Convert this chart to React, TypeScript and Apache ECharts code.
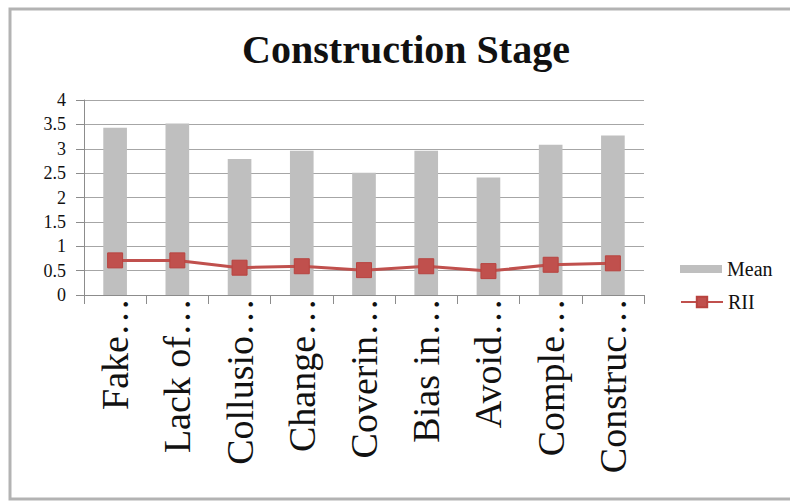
import React, { useEffect, useRef } from "react";
import * as echarts from "echarts";

// Construction-stage factors (labels are truncated as shown on the axis)
const categories = [
  "Fake…",
  "Lack of…",
  "Collusio…",
  "Change…",
  "Coverin…",
  "Bias in…",
  "Avoid…",
  "Comple…",
  "Construc…",
];

const meanValues = [3.43, 3.52, 2.79, 2.96, 2.51, 2.96, 2.41, 3.08, 3.27];
const riiValues = [0.71, 0.71, 0.56, 0.59, 0.51, 0.59, 0.49, 0.62, 0.65];

const yTicks = { min: 0, max: 4, interval: 0.5 };

const SERIF = "Liberation Serif";

export default function App() {
  const ref = useRef<HTMLDivElement>(null);

  useEffect(() => {
    if (!ref.current) return;
    const chart = echarts.init(ref.current, undefined, { renderer: "svg" });
    chart.setOption({
      animation: false,
      backgroundColor: "#ffffff",
      textStyle: { fontFamily: SERIF },
      title: {
        text: "Construction Stage",
        left: 406,
        top: 29,
        textAlign: "center",
        padding: 0,
        textStyle: {
          fontFamily: SERIF,
          fontSize: 40,
          fontWeight: "bold",
          color: "#111111",
        },
      },
      graphic: [
        {
          type: "rect",
          shape: { x: 10, y: 9, width: 800, height: 490 },
          style: { fill: "none", stroke: "#b3b3b3", lineWidth: 3 },
          silent: true,
        },
      ],
      legend: [
        {
          data: ["Mean"],
          orient: "vertical",
          left: 680,
          top: 259,
          padding: 0,
          itemWidth: 42,
          itemHeight: 8,
          icon: "rect",
          textStyle: { fontFamily: SERIF, fontSize: 20, color: "#111111" },
        },
        {
          data: ["RII"],
          orient: "vertical",
          left: 680,
          top: 292,
          padding: 0,
          itemWidth: 42,
          itemHeight: 13,
          textStyle: { fontFamily: SERIF, fontSize: 20, color: "#111111" },
        },
      ],
      grid: { left: 84, right: 146, top: 100, bottom: 207, containLabel: false },
      xAxis: {
        type: "category",
        data: categories,
        boundaryGap: true,
        axisLine: { show: true, lineStyle: { color: "#8c8c8c", width: 1 } },
        axisTick: {
          show: true,
          length: 9,
          alignWithLabel: false,
          lineStyle: { color: "#8c8c8c" },
        },
        axisLabel: {
          rotate: 90,
          margin: 3,
          interval: 0,
          fontFamily: SERIF,
          fontSize: 38,
          color: "#111111",
        },
        splitLine: { show: false },
      },
      yAxis: {
        type: "value",
        min: yTicks.min,
        max: yTicks.max,
        interval: yTicks.interval,
        axisLine: { show: true, lineStyle: { color: "#8c8c8c", width: 1 } },
        axisTick: { show: true, length: 8, lineStyle: { color: "#8c8c8c" } },
        axisLabel: {
          margin: 18,
          fontFamily: SERIF,
          fontSize: 18,
          color: "#111111",
        },
        splitLine: { show: true, lineStyle: { color: "#a6a6a6", width: 1 } },
      },
      series: [
        {
          name: "Mean",
          type: "bar",
          data: meanValues,
          barWidth: "38%",
          itemStyle: { color: "#bfbfbf" },
        },
        {
          name: "RII",
          type: "line",
          data: riiValues,
          symbol: "rect",
          symbolSize: 15,
          lineStyle: { color: "#c0504d", width: 3 },
          itemStyle: { color: "#c0504d", borderColor: "#b8433f", borderWidth: 1 },
        },
      ],
    });
    return () => chart.dispose();
  }, []);

  return (
    <div
      ref={ref}
      style={{ position: "fixed", left: 0, top: 0, width: 790, height: 502 }}
    />
  );
}
